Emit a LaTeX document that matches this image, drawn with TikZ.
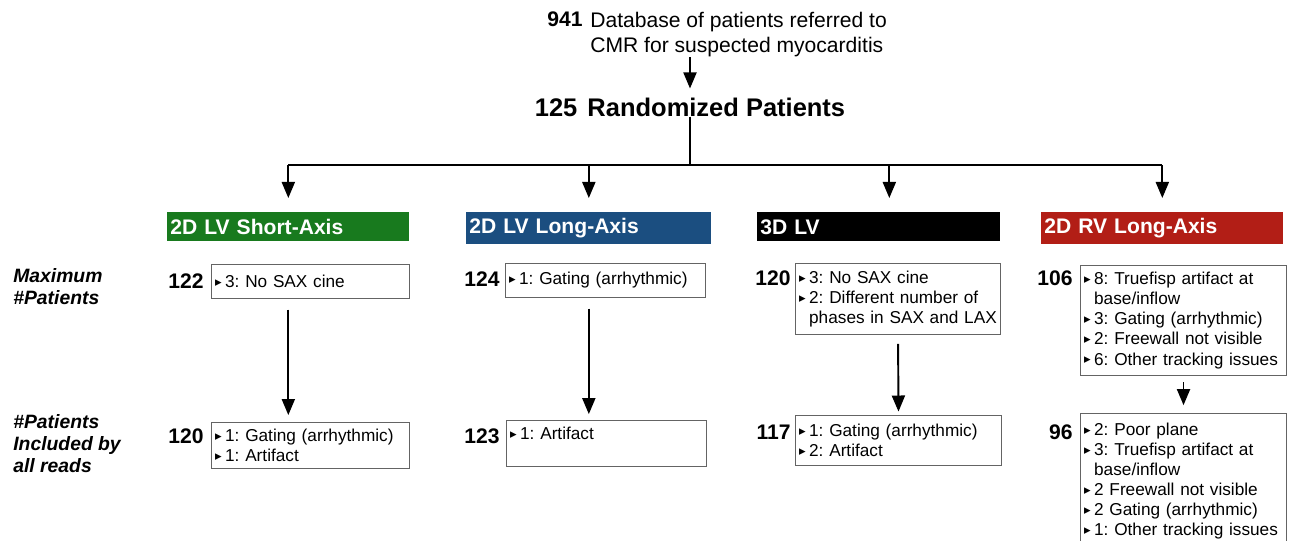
\documentclass[tikz,border=0pt]{standalone}
\usepackage{fontspec}
\setmainfont{Liberation Sans}
\newfontfamily\symfont{DejaVu Sans}
\usetikzlibrary{arrows,positioning}
\definecolor{saxgreen}{RGB}{24,122,30}
\definecolor{laxblue}{RGB}{27,78,128}
\definecolor{rvred}{RGB}{178,30,22}
\definecolor{boxgray}{RGB}{100,100,100}
\newcommand{\tri}{\raisebox{0.7pt}{\symfont\fontsize{7.5}{7.5}\selectfont ▸}\hspace{2pt}}
\newlength{\trilen}
\newcommand{\ind}{\hspace*{\trilen}}
\frenchspacing
\hyphenpenalty=10000

\begin{document}
\settowidth{\trilen}{\tri}
\begin{tikzpicture}[x=0.02cm,y=-0.02cm]
				\tikzstyle{myedgestyle} = [-triangle 45, line width=1.1pt]
				\tikzstyle{plainedge} = [line width=1.1pt]
				\tikzstyle{header} = [anchor=north west, minimum height=0.58cm, inner xsep=0.06cm, align=left, text=white, font=\fontsize{12}{14}\selectfont\bfseries]
				\tikzstyle{reasons} = [draw=boxgray, line width=0.6pt, anchor=north west, inner xsep=2pt, align=left, font=\fontsize{9.8}{11.4}\selectfont]
				\tikzstyle{count} = [anchor=base east, inner sep=0, font=\fontsize{12}{14}\selectfont\bfseries]
				\tikzstyle{rowlabel} = [anchor=north west, inner sep=0, align=left, font=\fontsize{11}{12.5}\selectfont\bfseries\itshape]
				
				\useasboundingbox (0,0) rectangle (1296,541);
				
				\node[count] (n941) at (583,27) {941};
				\node[anchor=north west, inner sep=0, align=left, font=\fontsize{12}{14.2}\selectfont] (db) at (590,12) {Database of patients referred to\\CMR for suspected myocarditis};
				\node[anchor=base, inner sep=0, font=\fontsize{14.5}{17}\selectfont\bfseries] (rand) at (690,116) {125\hspace{0.4em}Randomized Patients};
				\coordinate (split) at (690,165);
				
				\node[header, fill=saxgreen, text width=4.72cm] (sax) at (167,212) {2D LV Short-Axis};
				\node[header, fill=laxblue, text width=4.78cm] (lax) at (466,212) {2D LV Long-Axis};
				\node[header, fill=black, text width=4.74cm] (lv3d) at (757,212) {3D LV};
				\node[header, fill=rvred, text width=4.72cm] (rvh) at (1041,212) {2D RV Long-Axis};
				
				\node[rowlabel] (maxlbl) at (13,268) {Maximum\\\#Patients};
				\node[rowlabel] (incllbl) at (13,414) {\#Patients\\Included by\\all reads};
				
				\node[count] (c122) at (204,288) {122};
				\node[reasons, text width=3.82cm, minimum height=0.68cm] (max1) at (211,264) {\tri 3: No SAX cine};
				\node[count] (c124) at (500,286) {124};
				\node[reasons, text width=3.86cm, minimum height=0.68cm] (max2) at (505,263) {\tri 1: Gating (arrhythmic)};
				\node[count] (c120a) at (791,285) {120};
				\node[reasons, text width=3.96cm, minimum height=1.42cm] (max3) at (795,263) {\tri 3: No SAX cine\\\tri 2: Different number of\\\ind phases in SAX and LAX};
				\node[count] (c106) at (1073,285) {106};
				\node[reasons, text width=3.98cm, minimum height=2.2cm] (max4) at (1080,265) {\tri 8: Truefisp artifact at\\\ind base/inflow\\\tri 3: Gating (arrhythmic)\\\tri 2: Freewall not visible\\\tri 6: Other tracking issues};
				
				\node[count] (c120b) at (204,443) {120};
				\node[reasons, text width=3.82cm, minimum height=0.92cm] (inc1) at (211,422) {\tri 1: Gating (arrhythmic)\\\tri 1: Artifact};
				\node[count] (c123) at (500,443) {123};
				\node[reasons, text width=3.86cm, minimum height=0.92cm] (inc2) at (506,420) {\tri 1: Artifact\\\mbox{}};
				\node[count] (c117) at (791,439) {117};
				\node[reasons, text width=3.98cm, minimum height=1.0cm] (inc3) at (795,415) {\tri 1: Gating (arrhythmic)\\\tri 2: Artifact};
				\node[count] (c96) at (1073,439) {96};
				\node[reasons, text width=3.98cm, minimum height=2.7cm] (inc4) at (1080,413) {\tri 2: Poor plane\\\tri 3: Truefisp artifact at\\\ind base/inflow\\\tri 2 Freewall not visible\\\tri 2 Gating (arrhythmic)\\\tri 1: Other tracking issues};
				
				\draw [myedgestyle, shorten >=5pt] (db.south -| rand.north) -- (rand.north);
				\draw [plainedge] (rand.south) -- (split);
				\draw [plainedge] (sax.north |- split) -- (rvh.north |- split);
				\draw [myedgestyle, shorten >=8pt] (sax.north |- split) -- (sax.north);
				\draw [myedgestyle, shorten >=8pt] (lax.north |- split) -- (lax.north);
				\draw [myedgestyle, shorten >=8pt] ([xshift=0.21cm]lv3d.north |- split) -- ([xshift=0.21cm]lv3d.north);
				\draw [myedgestyle, shorten >=8pt] (rvh.north |- split) -- (rvh.north);
				
				\draw [myedgestyle, shorten <=6pt, shorten >=4pt] (max1.south -| sax.south) -- (inc1.north -| sax.south);
				\draw [myedgestyle, shorten <=6pt, shorten >=3.4pt] (max2.south -| lax.south) -- (inc2.north -| lax.south);
				\draw [myedgestyle, shorten <=5pt, shorten >=2pt] (max3.south) -- (inc3.north);
				\draw [myedgestyle, shorten <=3.4pt, shorten >=4.5pt] (max4.south) -- (inc4.north);
				
\end{tikzpicture}
\end{document}
